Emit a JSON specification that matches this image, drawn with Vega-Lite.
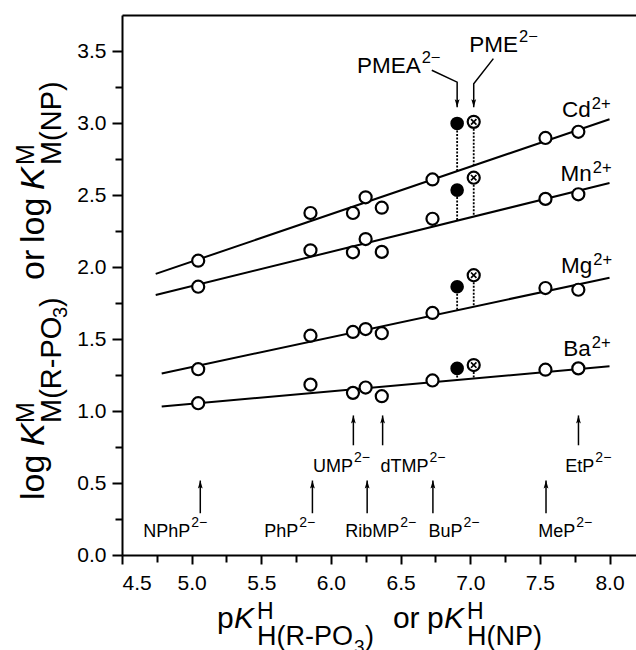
{
  "$schema": "https://vega.github.io/schema/vega-lite/v6.json",
  "width": 514,
  "height": 540,
  "autosize": {"type": "none"},
  "padding": {"left": 122, "top": 15, "right": 0, "bottom": 95},
  "background": "white",
  "config": {
    "view": {"stroke": null},
    "font": "Liberation Sans",
    "text": {"font": "Liberation Sans", "color": "black"},
    "axis": {"domainColor": "black", "domainWidth": 2, "tickColor": "black", "tickWidth": 2, "labelColor": "black", "labelFont": "Liberation Sans", "labelFontSize": 21, "grid": false}
  },
  "datasets": {
    "fits": [
      {"ion": "Cd", "x": 4.742, "y": 1.952}, {"ion": "Cd", "x": 8.0, "y": 3.026},
      {"ion": "Mn", "x": 4.742, "y": 1.805}, {"ion": "Mn", "x": 8.0, "y": 2.583},
      {"ion": "Mg", "x": 4.785, "y": 1.261}, {"ion": "Mg", "x": 8.0, "y": 1.926},
      {"ion": "Ba", "x": 4.785, "y": 1.031}, {"ion": "Ba", "x": 8.0, "y": 1.31}
    ],
    "drops": [
      {"ion": "Cd", "lig": "PMEA", "x": 6.906, "y": 2.997, "y2": 2.666},
      {"ion": "Cd", "lig": "PME", "x": 7.025, "y": 3.008, "y2": 2.704},
      {"ion": "Mn", "lig": "PMEA", "x": 6.906, "y": 2.534, "y2": 2.322},
      {"ion": "Mn", "lig": "PME", "x": 7.025, "y": 2.62, "y2": 2.35},
      {"ion": "Mg", "lig": "PMEA", "x": 6.906, "y": 1.863, "y2": 1.7},
      {"ion": "Mg", "lig": "PME", "x": 7.025, "y": 1.943, "y2": 1.724},
      {"ion": "Ba", "lig": "PMEA", "x": 6.906, "y": 1.296, "y2": 1.215},
      {"ion": "Ba", "lig": "PME", "x": 7.025, "y": 1.319, "y2": 1.225}
    ],
    "pts": [
      {"ion": "Cd", "lig": "NPhP", "x": 5.047, "y": 2.044},
      {"ion": "Cd", "lig": "PhP", "x": 5.853, "y": 2.375},
      {"ion": "Cd", "lig": "UMP", "x": 6.158, "y": 2.375},
      {"ion": "Cd", "lig": "RibMP", "x": 6.249, "y": 2.484},
      {"ion": "Cd", "lig": "dTMP", "x": 6.365, "y": 2.412},
      {"ion": "Cd", "lig": "BuP", "x": 6.729, "y": 2.608},
      {"ion": "Cd", "lig": "MeP", "x": 7.54, "y": 2.896},
      {"ion": "Cd", "lig": "EtP", "x": 7.776, "y": 2.939},
      {"ion": "Mn", "lig": "NPhP", "x": 5.047, "y": 1.863},
      {"ion": "Mn", "lig": "PhP", "x": 5.853, "y": 2.116},
      {"ion": "Mn", "lig": "UMP", "x": 6.158, "y": 2.102},
      {"ion": "Mn", "lig": "RibMP", "x": 6.249, "y": 2.194},
      {"ion": "Mn", "lig": "dTMP", "x": 6.365, "y": 2.105},
      {"ion": "Mn", "lig": "BuP", "x": 6.729, "y": 2.335},
      {"ion": "Mn", "lig": "MeP", "x": 7.54, "y": 2.473},
      {"ion": "Mn", "lig": "EtP", "x": 7.776, "y": 2.505},
      {"ion": "Mg", "lig": "NPhP", "x": 5.047, "y": 1.29},
      {"ion": "Mg", "lig": "PhP", "x": 5.853, "y": 1.523},
      {"ion": "Mg", "lig": "UMP", "x": 6.158, "y": 1.549},
      {"ion": "Mg", "lig": "RibMP", "x": 6.249, "y": 1.569},
      {"ion": "Mg", "lig": "dTMP", "x": 6.365, "y": 1.54},
      {"ion": "Mg", "lig": "BuP", "x": 6.729, "y": 1.681},
      {"ion": "Mg", "lig": "MeP", "x": 7.54, "y": 1.854},
      {"ion": "Mg", "lig": "EtP", "x": 7.776, "y": 1.842},
      {"ion": "Ba", "lig": "NPhP", "x": 5.047, "y": 1.054},
      {"ion": "Ba", "lig": "PhP", "x": 5.853, "y": 1.183},
      {"ion": "Ba", "lig": "UMP", "x": 6.158, "y": 1.126},
      {"ion": "Ba", "lig": "RibMP", "x": 6.249, "y": 1.163},
      {"ion": "Ba", "lig": "dTMP", "x": 6.365, "y": 1.103},
      {"ion": "Ba", "lig": "BuP", "x": 6.729, "y": 1.212},
      {"ion": "Ba", "lig": "MeP", "x": 7.54, "y": 1.287},
      {"ion": "Ba", "lig": "EtP", "x": 7.776, "y": 1.296},
      {"ion": "Cd", "lig": "PMEA", "x": 6.906, "y": 2.997},
      {"ion": "Mn", "lig": "PMEA", "x": 6.906, "y": 2.534},
      {"ion": "Mg", "lig": "PMEA", "x": 6.906, "y": 1.863},
      {"ion": "Ba", "lig": "PMEA", "x": 6.906, "y": 1.296},
      {"ion": "Cd", "lig": "PME", "x": 7.025, "y": 3.008},
      {"ion": "Mn", "lig": "PME", "x": 7.025, "y": 2.62},
      {"ion": "Mg", "lig": "PME", "x": 7.025, "y": 1.943},
      {"ion": "Ba", "lig": "PME", "x": 7.025, "y": 1.319}
    ],
    "varrows": [
      {"lig": "NPhP", "x": 5.062, "y": 0.29, "y2": 0.517},
      {"lig": "PhP", "x": 5.867, "y": 0.29, "y2": 0.517},
      {"lig": "RibMP", "x": 6.26, "y": 0.29, "y2": 0.517},
      {"lig": "BuP", "x": 6.732, "y": 0.29, "y2": 0.517},
      {"lig": "MeP", "x": 7.544, "y": 0.29, "y2": 0.517},
      {"lig": "UMP", "x": 6.161, "y": 0.762, "y2": 0.969},
      {"lig": "dTMP", "x": 6.371, "y": 0.762, "y2": 0.969},
      {"lig": "EtP", "x": 7.777, "y": 0.762, "y2": 0.969}
    ],
    "barrows": [
      {"arrow": "PMEA", "o": 1, "x": 6.724, "y": 3.366},
      {"arrow": "PMEA", "o": 2, "x": 6.906, "y": 3.284},
      {"arrow": "PMEA", "o": 3, "x": 6.906, "y": 3.11},
      {"arrow": "PME", "o": 1, "x": 7.166, "y": 3.447},
      {"arrow": "PME", "o": 2, "x": 7.025, "y": 3.273},
      {"arrow": "PME", "o": 3, "x": 7.025, "y": 3.11}
    ],
    "labels": [
      {"kind": "lig", "base": "NPhP", "sup": "2−", "x": 4.99, "y": 0.125},
      {"kind": "lig", "base": "PhP", "sup": "2−", "x": 5.765, "y": 0.125},
      {"kind": "lig", "base": "RibMP", "sup": "2−", "x": 6.49, "y": 0.125},
      {"kind": "lig", "base": "BuP", "sup": "2−", "x": 6.944, "y": 0.125},
      {"kind": "lig", "base": "MeP", "sup": "2−", "x": 7.754, "y": 0.125},
      {"kind": "lig", "base": "UMP", "sup": "2−", "x": 6.158, "y": 0.575},
      {"kind": "lig", "base": "dTMP", "sup": "2−", "x": 6.7, "y": 0.575},
      {"kind": "lig", "base": "EtP", "sup": "2−", "x": 7.891, "y": 0.575},
      {"kind": "metal", "base": "Cd", "sup": "2+", "x": 7.865, "y": 3.04},
      {"kind": "metal", "base": "Mn", "sup": "2+", "x": 7.873, "y": 2.6},
      {"kind": "metal", "base": "Mg", "sup": "2+", "x": 7.876, "y": 1.96},
      {"kind": "metal", "base": "Ba", "sup": "2+", "x": 7.865, "y": 1.385},
      {"kind": "pm", "base": "PMEA", "sup": "2−", "x": 6.644, "y": 3.35},
      {"kind": "pm", "base": "PME", "sup": "2−", "x": 7.343, "y": 3.495}
    ],
    "xtitle": [
      {"kind": "main", "t": "p", "x": 5.182, "y": -0.507},
      {"kind": "main", "t": "or", "x": 6.445, "y": -0.507},
      {"kind": "main", "t": "p", "x": 6.69, "y": -0.507},
      {"kind": "ital", "t": "K", "x": 5.304, "y": -0.507},
      {"kind": "ital", "t": "K", "x": 6.812, "y": -0.507},
      {"kind": "sup", "t": "H", "x": 5.469, "y": -0.444},
      {"kind": "sup", "t": "H", "x": 6.977, "y": -0.444},
      {"kind": "sub", "t": "H(R-PO", "x": 5.469, "y": -0.625},
      {"kind": "sub", "t": ")", "x": 6.244, "y": -0.625},
      {"kind": "sub", "t": "H(NP)", "x": 6.977, "y": -0.625},
      {"kind": "subsub", "t": "3", "x": 6.165, "y": -0.68}
    ],
    "ytitle": [
      {"kind": "main", "t": "log", "x": 3.94, "y": 0.382},
      {"kind": "main", "t": "or", "x": 3.94, "y": 1.91},
      {"kind": "main", "t": "log", "x": 3.94, "y": 2.167},
      {"kind": "ital", "t": "K", "x": 3.94, "y": 0.757},
      {"kind": "ital", "t": "K", "x": 3.94, "y": 2.535},
      {"kind": "sup", "t": "M", "x": 3.868, "y": 0.917},
      {"kind": "sup", "t": "M", "x": 3.868, "y": 2.708},
      {"kind": "sub", "t": "M(R-PO", "x": 4.062, "y": 0.917},
      {"kind": "sub", "t": ")", "x": 4.062, "y": 1.722},
      {"kind": "sub", "t": "M(NP)", "x": 4.062, "y": 2.708},
      {"kind": "subsub", "t": "3", "x": 4.105, "y": 1.646}
    ]
  },
  "layer": [
    {
      "data": {"name": "fits"},
      "mark": {"type": "line", "color": "black", "strokeWidth": 2},
      "encoding": {
        "x": {"field": "x", "type": "quantitative", "scale": {"domain": [4.5, 8.19], "nice": false, "zero": false}, "axis": {"orient": "bottom", "values": [4.5, 5, 5.5, 6, 6.5, 7, 7.5, 8], "format": ".1f", "tickSize": 9, "labelPadding": 8, "title": null}},
        "y": {"field": "y", "type": "quantitative", "scale": {"domain": [0, 3.75], "nice": false, "zero": false}, "axis": {"orient": "left", "values": [0, 0.5, 1, 1.5, 2, 2.5, 3, 3.5], "format": ".1f", "tickSize": 10, "labelPadding": 6, "title": null}},
        "detail": {"field": "ion"}
      }
    },
    {
      "data": {"name": "drops"},
      "mark": {"type": "rule", "color": "black", "strokeWidth": 1.8, "strokeDash": [2, 1.5]},
      "encoding": {
        "x": {"field": "x", "type": "quantitative", "scale": {"domain": [4.5, 8.19], "nice": false, "zero": false}, "axis": {"orient": "bottom", "values": [4.75, 5.25, 5.75, 6.25, 6.75, 7.25, 7.75], "labels": false, "domain": false, "tickSize": 7, "title": null}},
        "y": {"field": "y", "type": "quantitative", "scale": {"domain": [0, 3.75], "nice": false, "zero": false}, "axis": {"orient": "left", "values": [0.25, 0.75, 1.25, 1.75, 2.25, 2.75, 3.25], "labels": false, "domain": false, "tickSize": 7, "title": null}},
        "y2": {"field": "y2"}
      }
    },
    {
      "data": {"name": "varrows"},
      "mark": {"type": "rule", "color": "black", "strokeWidth": 1.5},
      "encoding": {
        "x": {"field": "x", "type": "quantitative", "scale": {"domain": [4.5, 8.19], "nice": false, "zero": false}, "axis": null},
        "y": {"field": "y", "type": "quantitative", "scale": {"domain": [0, 3.75], "nice": false, "zero": false}, "axis": null},
        "y2": {"field": "y2"}
      }
    },
    {
      "data": {"name": "varrows"},
      "mark": {"type": "point", "shape": "M0,0L0.3,1L0,0.8L-0.3,1Z", "size": 256, "filled": true, "fill": "black", "strokeWidth": 0, "opacity": 1},
      "encoding": {
        "x": {"field": "x", "type": "quantitative", "scale": {"domain": [4.5, 8.19], "nice": false, "zero": false}, "axis": null},
        "y": {"field": "y2", "type": "quantitative", "scale": {"domain": [0, 3.75], "nice": false, "zero": false}, "axis": null}
      }
    },
    {
      "data": {"name": "barrows"},
      "mark": {"type": "line", "color": "black", "strokeWidth": 1.5},
      "encoding": {
        "x": {"field": "x", "type": "quantitative", "scale": {"domain": [4.5, 8.19], "nice": false, "zero": false}, "axis": null},
        "y": {"field": "y", "type": "quantitative", "scale": {"domain": [0, 3.75], "nice": false, "zero": false}, "axis": null},
        "detail": {"field": "arrow"},
        "order": {"field": "o"}
      }
    },
    {
      "data": {"name": "barrows"},
      "transform": [{"filter": "datum.o == 3"}],
      "mark": {"type": "point", "shape": "M0,0L0.3,-1L0,-0.8L-0.3,-1Z", "size": 256, "filled": true, "fill": "black", "strokeWidth": 0, "opacity": 1},
      "encoding": {
        "x": {"field": "x", "type": "quantitative", "scale": {"domain": [4.5, 8.19], "nice": false, "zero": false}, "axis": null},
        "y": {"field": "y", "type": "quantitative", "scale": {"domain": [0, 3.75], "nice": false, "zero": false}, "axis": null}
      }
    },
    {
      "data": {"name": "pts"},
      "transform": [{"filter": "datum.lig != 'PMEA' && datum.lig != 'PME'"}],
      "mark": {"type": "point", "shape": "circle", "size": 145, "filled": true, "fill": "white", "stroke": "black", "strokeWidth": 2.2, "opacity": 1},
      "encoding": {
        "x": {"field": "x", "type": "quantitative", "scale": {"domain": [4.5, 8.19], "nice": false, "zero": false}, "axis": {"orient": "top", "ticks": false, "labels": false, "domain": true, "title": null}},
        "y": {"field": "y", "type": "quantitative", "scale": {"domain": [0, 3.75], "nice": false, "zero": false}, "axis": null}
      }
    },
    {
      "data": {"name": "pts"},
      "transform": [{"filter": "datum.lig == 'PMEA'"}],
      "mark": {"type": "point", "shape": "circle", "size": 185, "filled": true, "fill": "black", "strokeWidth": 0, "opacity": 1},
      "encoding": {
        "x": {"field": "x", "type": "quantitative", "scale": {"domain": [4.5, 8.19], "nice": false, "zero": false}, "axis": null},
        "y": {"field": "y", "type": "quantitative", "scale": {"domain": [0, 3.75], "nice": false, "zero": false}, "axis": null}
      }
    },
    {
      "data": {"name": "pts"},
      "transform": [{"filter": "datum.lig == 'PME'"}],
      "mark": {"type": "point", "shape": "circle", "size": 145, "filled": true, "fill": "white", "stroke": "black", "strokeWidth": 2.2, "opacity": 1},
      "encoding": {
        "x": {"field": "x", "type": "quantitative", "scale": {"domain": [4.5, 8.19], "nice": false, "zero": false}, "axis": null},
        "y": {"field": "y", "type": "quantitative", "scale": {"domain": [0, 3.75], "nice": false, "zero": false}, "axis": null}
      }
    },
    {
      "data": {"name": "pts"},
      "transform": [{"filter": "datum.lig == 'PME'"}],
      "mark": {"type": "point", "shape": "M-0.45,-0.45L0.45,0.45M-0.45,0.45L0.45,-0.45", "size": 145, "filled": false, "stroke": "black", "strokeWidth": 1.7, "opacity": 1},
      "encoding": {
        "x": {"field": "x", "type": "quantitative", "scale": {"domain": [4.5, 8.19], "nice": false, "zero": false}, "axis": null},
        "y": {"field": "y", "type": "quantitative", "scale": {"domain": [0, 3.75], "nice": false, "zero": false}, "axis": null}
      }
    },
    {
      "data": {"name": "labels"},
      "transform": [{"filter": "datum.kind == 'lig'"}],
      "mark": {"type": "text", "align": "right", "baseline": "alphabetic", "fontSize": 18, "font": "Liberation Sans"},
      "encoding": {
        "x": {"field": "x", "type": "quantitative", "scale": {"domain": [4.5, 8.19], "nice": false, "zero": false}, "axis": null},
        "y": {"field": "y", "type": "quantitative", "scale": {"domain": [0, 3.75], "nice": false, "zero": false}, "axis": null},
        "text": {"field": "base"}
      }
    },
    {
      "data": {"name": "labels"},
      "transform": [{"filter": "datum.kind == 'lig'"}],
      "mark": {"type": "text", "align": "left", "baseline": "alphabetic", "fontSize": 14, "dx": 1, "dy": -10, "font": "Liberation Sans"},
      "encoding": {
        "x": {"field": "x", "type": "quantitative", "scale": {"domain": [4.5, 8.19], "nice": false, "zero": false}, "axis": null},
        "y": {"field": "y", "type": "quantitative", "scale": {"domain": [0, 3.75], "nice": false, "zero": false}, "axis": null},
        "text": {"field": "sup"}
      }
    },
    {
      "data": {"name": "labels"},
      "transform": [{"filter": "datum.kind == 'metal'"}],
      "mark": {"type": "text", "align": "right", "baseline": "alphabetic", "fontSize": 22.5, "font": "Liberation Sans"},
      "encoding": {
        "x": {"field": "x", "type": "quantitative", "scale": {"domain": [4.5, 8.19], "nice": false, "zero": false}, "axis": null},
        "y": {"field": "y", "type": "quantitative", "scale": {"domain": [0, 3.75], "nice": false, "zero": false}, "axis": null},
        "text": {"field": "base"}
      }
    },
    {
      "data": {"name": "labels"},
      "transform": [{"filter": "datum.kind == 'metal'"}],
      "mark": {"type": "text", "align": "left", "baseline": "alphabetic", "fontSize": 16.5, "dx": 1, "dy": -8, "font": "Liberation Sans"},
      "encoding": {
        "x": {"field": "x", "type": "quantitative", "scale": {"domain": [4.5, 8.19], "nice": false, "zero": false}, "axis": null},
        "y": {"field": "y", "type": "quantitative", "scale": {"domain": [0, 3.75], "nice": false, "zero": false}, "axis": null},
        "text": {"field": "sup"}
      }
    },
    {
      "data": {"name": "labels"},
      "transform": [{"filter": "datum.kind == 'pm'"}],
      "mark": {"type": "text", "align": "right", "baseline": "alphabetic", "fontSize": 22.5, "font": "Liberation Sans"},
      "encoding": {
        "x": {"field": "x", "type": "quantitative", "scale": {"domain": [4.5, 8.19], "nice": false, "zero": false}, "axis": null},
        "y": {"field": "y", "type": "quantitative", "scale": {"domain": [0, 3.75], "nice": false, "zero": false}, "axis": null},
        "text": {"field": "base"}
      }
    },
    {
      "data": {"name": "labels"},
      "transform": [{"filter": "datum.kind == 'pm'"}],
      "mark": {"type": "text", "align": "left", "baseline": "alphabetic", "fontSize": 16.5, "dx": 1, "dy": -10, "font": "Liberation Sans"},
      "encoding": {
        "x": {"field": "x", "type": "quantitative", "scale": {"domain": [4.5, 8.19], "nice": false, "zero": false}, "axis": null},
        "y": {"field": "y", "type": "quantitative", "scale": {"domain": [0, 3.75], "nice": false, "zero": false}, "axis": null},
        "text": {"field": "sup"}
      }
    },
    {
      "data": {"name": "xtitle"},
      "transform": [{"filter": "datum.kind == 'main'"}],
      "mark": {"type": "text", "align": "left", "baseline": "alphabetic", "fontSize": 30, "font": "Liberation Sans"},
      "encoding": {
        "x": {"field": "x", "type": "quantitative", "scale": {"domain": [4.5, 8.19], "nice": false, "zero": false}, "axis": null},
        "y": {"field": "y", "type": "quantitative", "scale": {"domain": [0, 3.75], "nice": false, "zero": false}, "axis": null},
        "text": {"field": "t"}
      }
    },
    {
      "data": {"name": "xtitle"},
      "transform": [{"filter": "datum.kind == 'ital'"}],
      "mark": {"type": "text", "align": "left", "baseline": "alphabetic", "fontSize": 30, "fontStyle": "italic", "font": "Liberation Sans"},
      "encoding": {
        "x": {"field": "x", "type": "quantitative", "scale": {"domain": [4.5, 8.19], "nice": false, "zero": false}, "axis": null},
        "y": {"field": "y", "type": "quantitative", "scale": {"domain": [0, 3.75], "nice": false, "zero": false}, "axis": null},
        "text": {"field": "t"}
      }
    },
    {
      "data": {"name": "xtitle"},
      "transform": [{"filter": "datum.kind == 'sup'"}],
      "mark": {"type": "text", "align": "left", "baseline": "alphabetic", "fontSize": 23, "font": "Liberation Sans"},
      "encoding": {
        "x": {"field": "x", "type": "quantitative", "scale": {"domain": [4.5, 8.19], "nice": false, "zero": false}, "axis": null},
        "y": {"field": "y", "type": "quantitative", "scale": {"domain": [0, 3.75], "nice": false, "zero": false}, "axis": null},
        "text": {"field": "t"}
      }
    },
    {
      "data": {"name": "xtitle"},
      "transform": [{"filter": "datum.kind == 'sub'"}],
      "mark": {"type": "text", "align": "left", "baseline": "alphabetic", "fontSize": 27, "font": "Liberation Sans"},
      "encoding": {
        "x": {"field": "x", "type": "quantitative", "scale": {"domain": [4.5, 8.19], "nice": false, "zero": false}, "axis": null},
        "y": {"field": "y", "type": "quantitative", "scale": {"domain": [0, 3.75], "nice": false, "zero": false}, "axis": null},
        "text": {"field": "t"}
      }
    },
    {
      "data": {"name": "xtitle"},
      "transform": [{"filter": "datum.kind == 'subsub'"}],
      "mark": {"type": "text", "align": "left", "baseline": "alphabetic", "fontSize": 19, "font": "Liberation Sans"},
      "encoding": {
        "x": {"field": "x", "type": "quantitative", "scale": {"domain": [4.5, 8.19], "nice": false, "zero": false}, "axis": null},
        "y": {"field": "y", "type": "quantitative", "scale": {"domain": [0, 3.75], "nice": false, "zero": false}, "axis": null},
        "text": {"field": "t"}
      }
    },
    {
      "data": {"name": "ytitle"},
      "transform": [{"filter": "datum.kind == 'main'"}],
      "mark": {"type": "text", "align": "left", "baseline": "alphabetic", "angle": 270, "fontSize": 34, "font": "Liberation Sans"},
      "encoding": {
        "x": {"field": "x", "type": "quantitative", "scale": {"domain": [4.5, 8.19], "nice": false, "zero": false}, "axis": null},
        "y": {"field": "y", "type": "quantitative", "scale": {"domain": [0, 3.75], "nice": false, "zero": false}, "axis": null},
        "text": {"field": "t"}
      }
    },
    {
      "data": {"name": "ytitle"},
      "transform": [{"filter": "datum.kind == 'ital'"}],
      "mark": {"type": "text", "align": "left", "baseline": "alphabetic", "angle": 270, "fontSize": 34, "fontStyle": "italic", "font": "Liberation Sans"},
      "encoding": {
        "x": {"field": "x", "type": "quantitative", "scale": {"domain": [4.5, 8.19], "nice": false, "zero": false}, "axis": null},
        "y": {"field": "y", "type": "quantitative", "scale": {"domain": [0, 3.75], "nice": false, "zero": false}, "axis": null},
        "text": {"field": "t"}
      }
    },
    {
      "data": {"name": "ytitle"},
      "transform": [{"filter": "datum.kind == 'sup'"}],
      "mark": {"type": "text", "align": "left", "baseline": "alphabetic", "angle": 270, "fontSize": 25, "font": "Liberation Sans"},
      "encoding": {
        "x": {"field": "x", "type": "quantitative", "scale": {"domain": [4.5, 8.19], "nice": false, "zero": false}, "axis": null},
        "y": {"field": "y", "type": "quantitative", "scale": {"domain": [0, 3.75], "nice": false, "zero": false}, "axis": null},
        "text": {"field": "t"}
      }
    },
    {
      "data": {"name": "ytitle"},
      "transform": [{"filter": "datum.kind == 'sub'"}],
      "mark": {"type": "text", "align": "left", "baseline": "alphabetic", "angle": 270, "fontSize": 29, "font": "Liberation Sans"},
      "encoding": {
        "x": {"field": "x", "type": "quantitative", "scale": {"domain": [4.5, 8.19], "nice": false, "zero": false}, "axis": null},
        "y": {"field": "y", "type": "quantitative", "scale": {"domain": [0, 3.75], "nice": false, "zero": false}, "axis": null},
        "text": {"field": "t"}
      }
    },
    {
      "data": {"name": "ytitle"},
      "transform": [{"filter": "datum.kind == 'subsub'"}],
      "mark": {"type": "text", "align": "left", "baseline": "alphabetic", "angle": 270, "fontSize": 20, "font": "Liberation Sans"},
      "encoding": {
        "x": {"field": "x", "type": "quantitative", "scale": {"domain": [4.5, 8.19], "nice": false, "zero": false}, "axis": null},
        "y": {"field": "y", "type": "quantitative", "scale": {"domain": [0, 3.75], "nice": false, "zero": false}, "axis": null},
        "text": {"field": "t"}
      }
    }
  ],
  "resolve": {"axis": {"x": "independent", "y": "independent"}}
}
